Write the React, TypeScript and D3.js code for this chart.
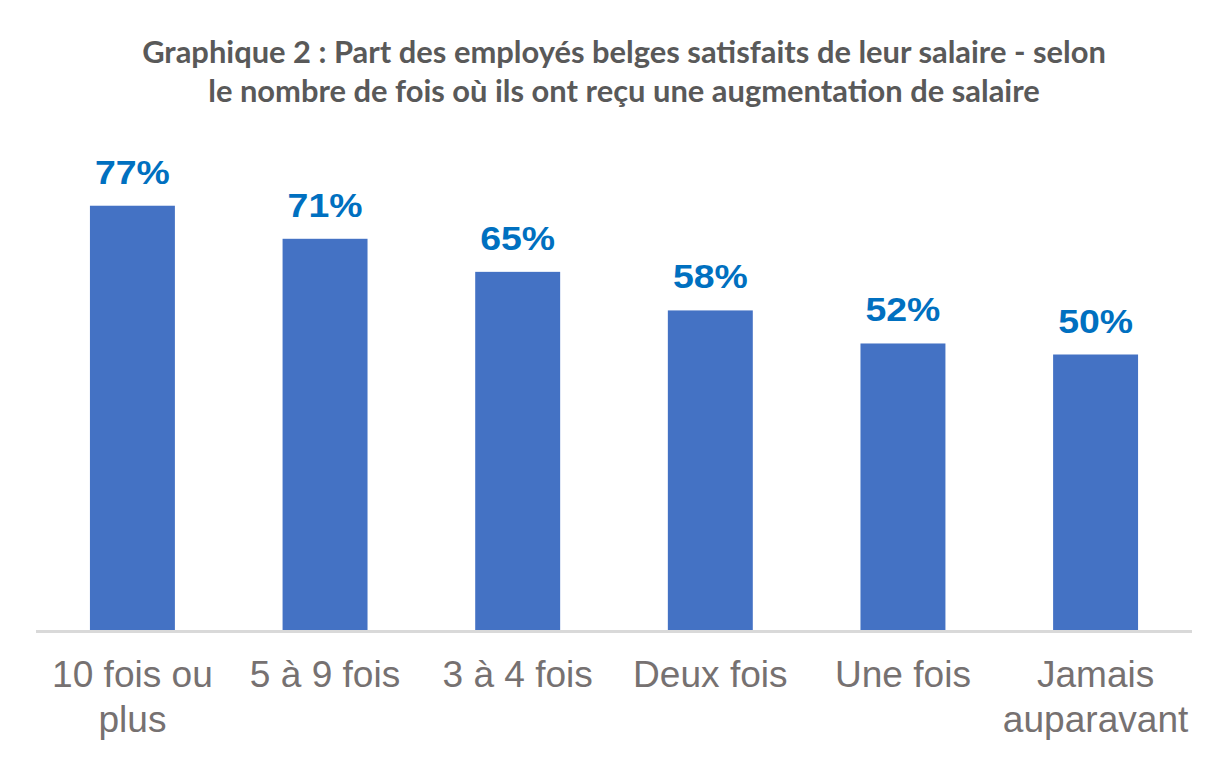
import React, { useEffect, useRef } from 'react';
import * as d3 from 'd3';

// categories (x axis) and values (%)
const categories: string[][] = [
  ['10 fois ou', 'plus'],
  ['5 à 9 fois'],
  ['3 à 4 fois'],
  ['Deux fois'],
  ['Une fois'],
  ['Jamais', 'auparavant'],
];
const values: number[] = [77, 71, 65, 58, 52, 50];
const titleLines: string[] = [
  'Graphique 2 : Part des employés belges satisfaits de leur salaire - selon',
  'le nombre de fois où ils ont reçu une augmentation de salaire',
];

const App: React.FC = () => {
  const ref = useRef<SVGSVGElement | null>(null);

  useEffect(() => {
    if (!ref.current) return;
    const width = 1220;
    const height = 772;
    const baseline = 630;

    const svg = d3.select(ref.current);
    svg.selectAll('*').remove();
    svg.attr('width', width).attr('height', height);

    svg.append('rect').attr('width', width).attr('height', height).attr('fill', '#fff');

    const keys = categories.map((c) => c.join(' '));
    const x = d3
      .scaleBand<string>()
      .domain(keys)
      .range([36, 1192])
      .paddingInner(0.559)
      .paddingOuter(0.28);
    const cx = (i: number) => (x(keys[i]) as number) + x.bandwidth() / 2;

    const y = d3.scaleLinear().domain([0, 100]).range([baseline, baseline - 551]);

    // title (slightly stretched to match the original's width)
    svg
      .append('g')
      .attr('transform', 'translate(624,0) scale(1.03,1)')
      .append('text')
      .attr('text-anchor', 'middle')
      .style('font-family', 'Lato, "Open Sans", sans-serif')
      .style('font-weight', 'bold')
      .style('font-size', '30px')
      .style('fill', '#595959')
      .selectAll('tspan')
      .data(titleLines)
      .enter()
      .append('tspan')
      .attr('x', 0)
      .attr('y', (_d, i) => 63 + i * 39)
      .text((d) => d);

    // bars
    svg
      .selectAll('rect.bar')
      .data(values)
      .enter()
      .append('rect')
      .attr('class', 'bar')
      .attr('x', (_d, i) => x(keys[i]) as number)
      .attr('width', x.bandwidth())
      .attr('y', (d) => y(d))
      .attr('height', (d) => baseline - y(d))
      .attr('fill', '#4472C4');

    // axis line
    svg
      .append('line')
      .attr('x1', 36)
      .attr('x2', 1192)
      .attr('y1', baseline + 1.5)
      .attr('y2', baseline + 1.5)
      .attr('stroke', '#D9D9D9')
      .attr('stroke-width', 3);

    // value labels
    svg
      .selectAll('text.val')
      .data(values)
      .enter()
      .append('text')
      .attr('class', 'val')
      .attr('transform', (d, i) => `translate(${cx(i)},${y(d) - 22}) scale(1.1,1)`)
      .attr('text-anchor', 'middle')
      .style('font-family', '"Liberation Sans", Arial, sans-serif')
      .style('font-weight', 'bold')
      .style('font-size', '34px')
      .style('fill', '#0070C0')
      .text((d) => `${d}%`);

    // category labels
    const cat = svg
      .selectAll('text.cat')
      .data(categories)
      .enter()
      .append('text')
      .attr('class', 'cat')
      .attr('transform', (_d, i) => `translate(${cx(i)},0) scale(1.03,1)`)
      .attr('text-anchor', 'middle')
      .style('font-family', '"Liberation Sans", Arial, sans-serif')
      .style('font-size', '36px')
      .style('fill', '#767171');

    cat
      .selectAll('tspan')
      .data((d) => d)
      .enter()
      .append('tspan')
      .attr('x', 0)
      .attr('y', (_d, j) => 687 + j * 45)
      .text((d) => d);
  }, []);

  return (
    <div style={{ position: 'absolute', left: 0, top: 0 }}>
      <svg ref={ref} style={{ display: 'block' }}></svg>
    </div>
  );
};

export default App;
